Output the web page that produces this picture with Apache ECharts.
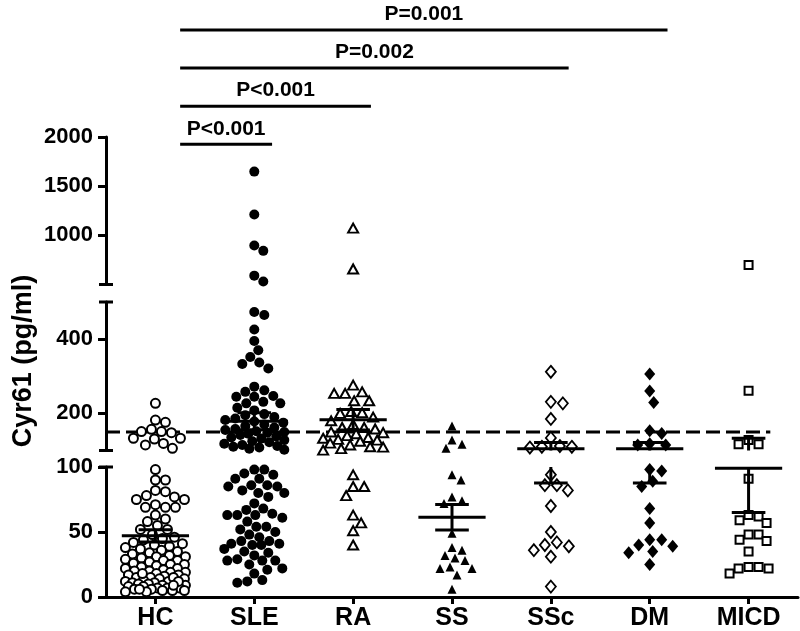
<!DOCTYPE html>
<html><head><meta charset="utf-8">
<script src="https://cdn.jsdelivr.net/npm/echarts@6/dist/echarts.min.js"></script>
<style>html,body{margin:0;padding:0;background:#fff}#c{width:800px;height:631px}</style>
</head><body><div id="c"></div>
<script>
// ---------- data ----------
const categories = ['HC', 'SLE', 'RA', 'SS', 'SSc', 'DM', 'MICD'];
const hc = [227, 182, 176, 157, 151, 151, 148, 133, 133, 131, 119, 115, 106,
  98, 90, 90, 82, 81, 78, 77, 75, 75, 71, 69, 69, 69, 63, 60, 58, 55, 52, 52,
  48, 46, 45, 44, 42, 41, 40, 39, 38, 37, 36, 35, 34, 33, 32, 31, 31, 30, 29, 28, 28, 27, 26, 25, 25,
  24, 23, 22, 22, 21, 20, 20, 19, 19, 18, 17, 17, 16, 15, 15, 14, 14, 13, 12, 12, 11, 11, 10, 10,
  9, 9, 8, 8, 7, 7, 7, 6, 6, 5, 5, 5, 4, 4, 18, 15, 12, 9, 6];
const sle = [1648, 1211, 896, 842, 590, 530,
  473, 465, 426, 395, 370, 352, 337, 333, 321,
  272, 262, 258, 247, 245, 245, 231, 227, 227, 215, 208,
  198, 195, 190, 186, 182, 178, 175, 170, 166, 162, 158, 155, 152, 150, 148, 145, 142, 138, 135, 132,
  128, 125, 122, 118, 115, 112, 110, 108, 105, 102,
  98, 98, 95, 94, 91, 91, 86, 86, 85, 85, 82, 80, 80, 77, 72, 68, 67, 64, 63, 63, 63, 61, 58, 54, 54,
  52, 50, 48, 46, 43, 43, 41, 41, 40, 40, 37, 35, 34, 32, 29, 28, 28, 28, 25, 22, 21, 18, 13, 12, 11];
const ra = [1073, 658, 276, 258, 254, 254, 234, 234, 205, 202, 200, 190, 180, 170, 162, 162, 158, 150,
  148, 145, 140, 135, 133, 130, 128, 125, 120, 115, 110, 109, 105, 101, 94, 85, 85, 78, 63, 57, 51, 40];
const ss = [166, 128, 117, 106, 94, 90, 77, 74, 72, 49, 38, 36, 32, 30, 28, 23, 22, 22, 17, 6];
const ssc = [312, 231, 227, 185, 134, 112, 110, 110, 108, 94, 86, 86, 82, 70, 50, 42, 40, 39, 36, 31, 8];
const dm = [306, 260, 229, 153, 146, 118, 115, 115, 98, 97, 89, 85, 68, 57, 44, 44, 40, 39, 35, 34, 25];
const micd = [698, 261, 128, 117, 117, 91, 63, 62, 59, 57, 48, 48, 44, 43, 35, 23, 22, 22, 18, 23];
const cutoff = 150;
const segments = [[0, 100], [100, 500], [500, 2000]];
const yTicksLow = [0, 50, 100];
const yTicksMid = [200, 400];
const yTicksTop = [1000, 1500, 2000];
const brackets = [[0, 1, 'P<0.001'], [0, 2, 'P<0.001'], [0, 4, 'P=0.002'], [0, 5, 'P=0.001']];
const yTitle = 'Cyr61 (pg/ml)';

// ---------- styles ----------
const FONT = 'Liberation Sans';
const groups = [hc, sle, ra, ss, ssc, dm, micd];
const white = { color: '#fff', borderColor: '#000', borderWidth: 2 };
const black = { color: '#000', borderWidth: 0 };
const markers = [
  { symbol: 'circle', size: 9, style: white, D: 10 },
  { symbol: 'circle', size: 10, style: black, D: 10 },
  { symbol: 'triangle', size: [10, 9], style: white, D: 11 },
  { symbol: 'triangle', size: [9, 9], style: black, D: 10 },
  { symbol: 'diamond', size: [10, 12], style: { color: '#fff', borderColor: '#000', borderWidth: 1.8 }, D: 12 },
  { symbol: 'diamond', size: [11, 13], style: black, D: 12 },
  { symbol: 'rect', size: [8, 8], style: white, D: 10 }
];
const L = 106, R = 2;
const gridDefs = [
  { left: L, right: R, top: 467, height: 130 },
  { left: L, right: R, top: 302, height: 148.5 },
  { left: L, right: R, top: 137, height: 147.5 },
  { left: L, right: R, top: 30, height: 152.4 }
];
const catIdx = categories.map((c, i) => i);

function yAxisDef(i, ticks) {
  return {
    type: 'value', gridIndex: i, min: segments[i][0], max: segments[i][1],
    axisLine: { show: true, onZero: false, lineStyle: { color: '#000', width: 3 } },
    axisTick: { show: true, length: 8, customValues: ticks, lineStyle: { color: '#000', width: 3 } },
    axisLabel: { customValues: ticks, formatter: v => String(v), fontSize: 22, fontWeight: 'bold', fontFamily: FONT, color: '#000', margin: 13 },
    splitLine: { show: false }
  };
}
const xAxes = gridDefs.map((g, i) => ({
  type: 'value', gridIndex: i, min: -0.5, max: 6.5, show: i === 0,
  axisLine: { show: true, onZero: false, lineStyle: { color: '#000', width: 3 } },
  axisTick: { show: true, length: 7, customValues: catIdx, lineStyle: { color: '#000', width: 3 } },
  axisLabel: { customValues: catIdx, formatter: v => categories[Math.round(v)], fontSize: 25, fontWeight: 'bold',
    fontFamily: FONT, color: '#000', margin: 9 },
  splitLine: { show: false }
}));
const yAxes = [yAxisDef(0, yTicksLow), yAxisDef(1, yTicksMid), yAxisDef(2, yTicksTop),
  { type: 'value', gridIndex: 3, min: 0, max: 4, show: false }];

const chart = echarts.init(document.getElementById('c'), null, { renderer: 'canvas' });
chart.setOption({ animation: false, grid: gridDefs, xAxis: xAxes, yAxis: yAxes, series: [] });

function segOf(v) { return v <= segments[0][1] ? 0 : (v <= segments[1][1] ? 1 : 2); }
function pxY(v) { const s = segOf(v); return chart.convertToPixel({ gridIndex: s }, [0, v])[1]; }
const band = chart.convertToPixel({ gridIndex: 0 }, [1, 0])[0] - chart.convertToPixel({ gridIndex: 0 }, [0, 0])[0];

function swarm(vals, D, maxOff) {
  const idx = vals.map((v, i) => i).sort((a, b) => vals[b] - vals[a]);
  const placed = [];
  const offs = new Array(vals.length);
  for (const i of idx) {
    const y = pxY(vals[i]);
    let chosen = null, bestOff = 0, bestD = -1;
    for (let k = 0; ; k++) {
      const off = (k % 2 === 1 ? 1 : -1) * Math.ceil(k / 2);
      if (Math.abs(off) > maxOff) break;
      let md = Infinity;
      for (const p of placed) {
        const dy = p.y - y;
        if (Math.abs(dy) < D) { const d = Math.hypot(p.x - off, dy); if (d < md) md = d; }
      }
      if (md >= D) { chosen = off; break; }
      if (md > bestD) { bestD = md; bestOff = off; }
    }
    if (chosen === null) chosen = bestOff;
    offs[i] = chosen + 0;
    placed.push({ x: chosen, y });
  }
  return offs;
}

const series = [];
groups.forEach((vals, g) => {
  const m = markers[g];
  const offs = swarm(vals, m.D, 30);
  for (let s = 0; s < 3; s++) {
    const data = [];
    vals.forEach((v, i) => { if (segOf(v) === s) data.push([g + offs[i] / band, v]); });
    series.push({
      type: 'scatter', xAxisIndex: s, yAxisIndex: s, data, symbol: m.symbol, symbolSize: m.size,
      itemStyle: Object.assign({ opacity: 1 }, m.style), z: 3, silent: true
    });
  }
});

// mean +/- SEM
const stats = groups.map(vals => {
  const n = vals.length;
  const mean = vals.reduce((a, b) => a + b, 0) / n;
  const sd = Math.sqrt(vals.reduce((a, b) => a + (b - mean) * (b - mean), 0) / (n - 1));
  const sem = sd / Math.sqrt(n);
  return [mean, mean - sem, mean + sem];
});
for (let s = 0; s < 3; s++) {
  const [smin, smax] = segments[s];
  series.push({
    type: 'custom', xAxisIndex: s, yAxisIndex: s, z: 6, silent: true,
    data: stats.map((st, i) => [i, st[0], st[1], st[2]]),
    renderItem(params, api) {
      const i = api.value(0), m = api.value(1), lo = api.value(2), hi = api.value(3);
      const st = { stroke: '#000', lineWidth: 3 };
      const ch = [];
      const hline = (v, hw) => {
        if (v < smin || v > smax) return;
        const a = api.coord([i - hw, v]), b = api.coord([i + hw, v]);
        ch.push({ type: 'line', shape: { x1: a[0], y1: a[1], x2: b[0], y2: b[1] }, style: st });
      };
      hline(m, 0.34); hline(lo, 0.17); hline(hi, 0.17);
      const a = Math.max(lo, smin), b = Math.min(hi, smax);
      if (a < b) {
        const p = api.coord([i, a]), q = api.coord([i, b]);
        ch.push({ type: 'line', shape: { x1: p[0], y1: p[1], x2: q[0], y2: q[1] }, style: st });
      }
      return { type: 'group', children: ch };
    }
  });
}
// cutoff dashed line
series.push({
  type: 'line', xAxisIndex: 1, yAxisIndex: 1, data: [[-0.5, cutoff], [6.22, cutoff]], symbol: 'none', z: 2,
  lineStyle: { color: '#000', width: 3, type: [14, 6] }, silent: true
});
// significance brackets
series.push({
  type: 'custom', xAxisIndex: 3, yAxisIndex: 3, z: 6, silent: true,
  data: brackets.map((b, k) => [b[0], b[1], k + 1]),
  renderItem(params, api) {
    const f = api.value(0), t = api.value(1), lv = api.value(2);
    const a = api.coord([f + 0.25, lv]), b = api.coord([t + 0.18, lv]);
    return {
      type: 'group', children: [
        { type: 'line', shape: { x1: a[0], y1: a[1], x2: b[0], y2: b[1] }, style: { stroke: '#000', lineWidth: 3 } },
        { type: 'text', style: { text: brackets[params.dataIndex][2], x: (a[0] + b[0]) / 2, y: a[1] - 5,
          align: 'center', verticalAlign: 'bottom', fontSize: 21, fontWeight: 'bold', fontFamily: FONT, fill: '#000' } }
      ]
    };
  }
});

// axis break caps
const caps = [[0, 100], [1, 100], [1, 500], [2, 500]].map(([g, v]) => {
  const y = chart.convertToPixel({ gridIndex: g }, [-0.5, v])[1];
  return { type: 'line', shape: { x1: L - 7, y1: y, x2: L + 7, y2: y }, style: { stroke: '#000', lineWidth: 3 }, z: 10 };
});
const graphic = caps.concat([{
  type: 'text', x: 24, y: 361, rotation: Math.PI / 2,
  style: { text: yTitle, fontSize: 27, fontWeight: 'bold', fontFamily: FONT, fill: '#000', align: 'center', verticalAlign: 'middle' }
}]);

chart.setOption({ series, graphic });
</script></body></html>
